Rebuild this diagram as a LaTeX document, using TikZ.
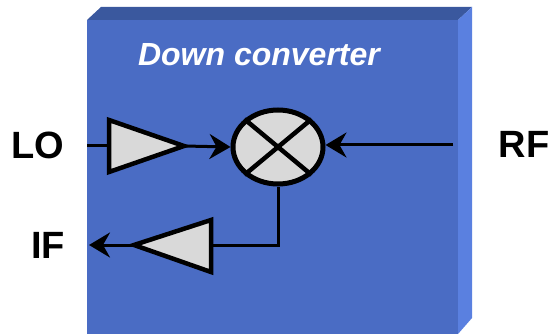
\documentclass[tikz,border=0pt]{standalone}
\usepackage{fontspec}
\setmainfont{Liberation Sans}
\usetikzlibrary{arrows.meta,shapes.geometric}
\definecolor{frontc}{RGB}{74,108,196}
\definecolor{topc}{RGB}{58,88,158}
\definecolor{sidec}{RGB}{90,128,224}
\definecolor{ampc}{RGB}{217,217,217}
\tikzset{
  conn/.style={line width=3pt, draw=black},
  arr/.style={conn, -{Stealth[length=21pt,width=25pt,inset=7pt]}},
  ampbox/.style={line width=4.5pt, draw=black, fill=ampc, line join=miter},
  lbl/.style={font=\bfseries\fontsize{38}{38}\selectfont, inner sep=0pt},
}
\begin{document}
\begin{tikzpicture}[x=1pt,y=-1pt]
\useasboundingbox (0,0) rectangle (557,334);
% box
\fill[frontc] (87,20) rectangle (458,334);
\fill[topc] (87,20) -- (101,7) -- (472,7) -- (458,20) -- cycle;
\fill[sidec] (458,20) -- (472,7) -- (472,318) -- (458,334) -- cycle;
\node[text=white, font=\bfseries\itshape\fontsize{32}{32}\selectfont, inner sep=0pt] (title) at (259,55) {Down converter};
% labels
\node[lbl] (lo) at (38,145) {LO};
\node[lbl] (if) at (48,245) {IF};
\node[lbl] (rf) at (524,144) {RF};
% mixer
\node[draw=black, line width=5pt, fill=ampc, ellipse, minimum width=90pt, minimum height=74pt, inner sep=0pt] (mix) at (278,147) {};
\draw[line width=4.5pt] (mix.north west) -- (mix.south east);
\draw[line width=4.5pt] (mix.north east) -- (mix.south west);
% LO amplifier
\coordinate (loin) at (87,146);
\coordinate (lobase) at (109,146);
\coordinate (lotip) at (184,146);
\draw[ampbox] (109,120) -- (109,172) -- (184,146) -- cycle;
\draw[conn] (loin) -- (lobase);
\draw[arr] (lotip) -- (mix.west);
% RF input
\coordinate (rfin) at (453,145);
\draw[arr] (rfin) -- (mix.east |- rfin);
% IF amplifier
\coordinate (ifbase) at (211,245);
\coordinate (iftip) at (134,245);
\coordinate (ifout) at (89,245);
\draw[ampbox] (211,220) -- (211,272) -- (134,245) -- cycle;
\draw[conn] (mix.south) -- (mix.south |- ifbase) -- (ifbase);
\draw[arr] (iftip) -- (ifout);
\end{tikzpicture}
\end{document}
